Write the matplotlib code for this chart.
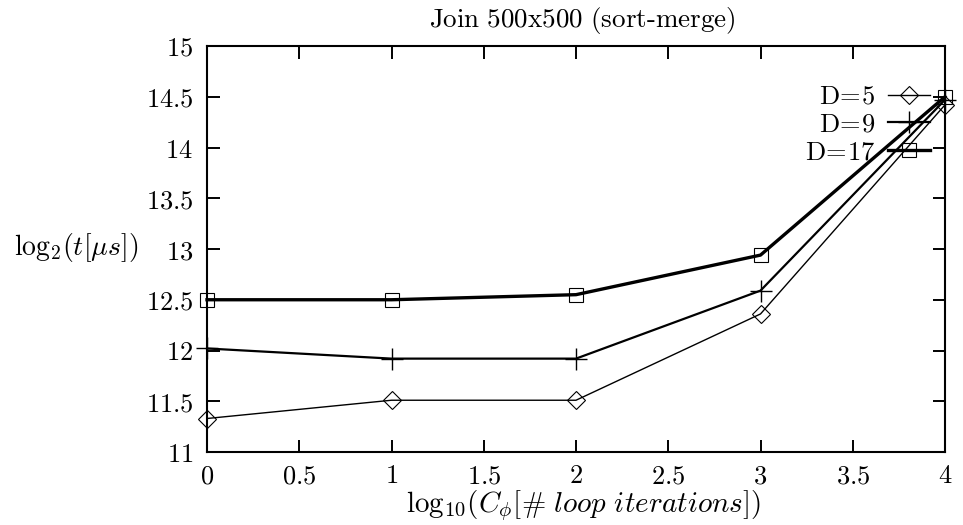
import matplotlib
matplotlib.use("Agg")
import matplotlib.pyplot as plt
from matplotlib.ticker import FuncFormatter, MultipleLocator

plt.rcParams['mathtext.fontset'] = 'cm'
plt.rcParams['font.family'] = ['DejaVu Serif']

x = [0, 1, 2, 3, 4]
d5 = [11.33, 11.51, 11.51, 12.36, 14.42]
d9 = [12.02, 11.92, 11.92, 12.59, 14.47]
d17 = [12.50, 12.50, 12.55, 12.94, 14.50]
labels = ["D=5", "D=9", "D=17"]

fig = plt.figure(figsize=(9.63, 5.25), dpi=100)
ax = fig.add_axes([207/963, 1-452/525, (945-207)/963, (452-46)/525])

fs = 19
ax.plot(x, d5, color='black', lw=1.0, marker='D', ms=9, mfc='none', mec='black', mew=0.8,
        clip_on=False, label=r'$\mathrm{D\!=\!5}$')
ax.plot(x, d9, color='black', lw=1.6, marker='+', ms=16, mec='black', mew=1.0,
        clip_on=False, label=r'$\mathrm{D\!=\!9}$')
ax.plot(x, d17, color='black', lw=2.4, marker='s', ms=10, mfc='none', mec='black', mew=0.8,
        clip_on=False, label=r'$\mathrm{D\!=\!17}$')

ax.set_xlim(0, 4)
ax.set_ylim(11, 15)
ax.xaxis.set_major_locator(MultipleLocator(0.5))
ax.yaxis.set_major_locator(MultipleLocator(0.5))
fmt = FuncFormatter(lambda v, p: r'$%g$' % v)
ax.xaxis.set_major_formatter(fmt)
ax.yaxis.set_major_formatter(fmt)
ax.tick_params(direction='in', length=9, width=1.4, top=True, right=True,
               labelsize=fs)
ax.tick_params(axis='y', pad=10)
ax.tick_params(axis='x', pad=8)
for s in ax.spines.values():
    s.set_linewidth(1.5)

fig.text(582/963, 1-20/525, r'$\mathrm{Join\ 500x500\ (sort\text{-}merge)}$', fontsize=19.5,
         ha='center', va='center')
fig.text(583/963, 1-488/525, r'$\mathrm{log}_{10}(C_\phi[\#\ loop\ iterations])$', fontsize=21,
         ha='center', va='top')
fig.text(76/963, 1-247/525, r'$\mathrm{log}_2(t[\mu s])$', fontsize=20, ha='center', va='center')

leg = ax.legend(loc='upper right', bbox_to_anchor=(0.98, 0.907), frameon=False,
                markerfirst=False, handlelength=1.6, handletextpad=0.5,
                labelspacing=0.1, fontsize=fs, numpoints=1, borderpad=0, borderaxespad=0)

fig.savefig('out.png', dpi=100)
